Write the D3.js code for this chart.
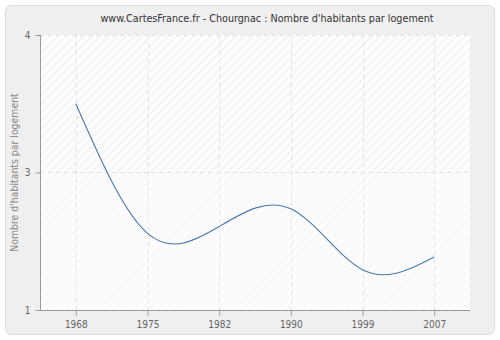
<!DOCTYPE html>
<html><head><meta charset="utf-8">
<script src="https://cdn.jsdelivr.net/npm/d3@7"></script>
<style>body{margin:0;background:#fff;}svg{display:block;font-family:"DejaVu Sans Condensed","DejaVu Sans",sans-serif;font-stretch:condensed;}</style>
</head><body><svg id="c" width="500" height="340"></svg>
<script>
const title = "www.CartesFrance.fr - Chourgnac : Nombre d'habitants par logement";
const yLabel = "Nombre d'habitants par logement";
const years = ["1968","1975","1982","1990","1999","2007"];
const values = [3.30, 1.98, 2.05, 2.23, 1.61, 1.74];
const yTicks = [1.2, 2.6, 4.0];
const yDomain = [1.2, 4.0];

const FONT = '"DejaVu Sans Condensed","DejaVu Sans",sans-serif';
const svg = d3.select("#c");
const L = 40, R = 470, T = 35, B = 310;
const defs = svg.append("defs");
const p1 = defs.append("pattern").attr("id","h1").attr("patternUnits","userSpaceOnUse")
  .attr("width",6).attr("height",6).attr("patternTransform","rotate(45)");
p1.append("rect").attr("width",6).attr("height",6).attr("fill","#fdfdfd");
p1.append("line").attr("x1",0).attr("y1",0).attr("x2",0).attr("y2",6).attr("stroke","#e4e4e4").attr("stroke-width",1.2);
const p2 = defs.append("pattern").attr("id","h2").attr("patternUnits","userSpaceOnUse")
  .attr("width",6).attr("height",6).attr("patternTransform","rotate(45)");
p2.append("rect").attr("width",6).attr("height",6).attr("fill","#fcfcfc");
p2.append("line").attr("x1",0).attr("y1",0).attr("x2",0).attr("y2",6).attr("stroke","#f1f1f1").attr("stroke-width",1.2);

svg.append("rect").attr("x",5.5).attr("y",5.5).attr("width",489).attr("height",329).attr("rx",6)
  .attr("fill","#efefef").attr("stroke","#dcdcdc");

const x = d3.scalePoint().domain(years).range([L,R]).padding(0.5);
const y = d3.scaleLinear().domain(yDomain).range([B,T]);

svg.append("rect").attr("x",L).attr("y",T).attr("width",R-L).attr("height",y(yTicks[1])-T).attr("fill","url(#h1)");
svg.append("rect").attr("x",L).attr("y",y(yTicks[1])).attr("width",R-L).attr("height",B-y(yTicks[1])).attr("fill","url(#h2)");

// grid
svg.append("g").selectAll("line").data(years).join("line")
  .attr("x1",d=>Math.round(x(d))+0.5).attr("x2",d=>Math.round(x(d))+0.5).attr("y1",T).attr("y2",B)
  .attr("stroke","#e2e2e2").attr("stroke-dasharray","4,4");
svg.append("g").selectAll("line").data(yTicks.slice(1)).join("line")
  .attr("x1",L).attr("x2",R).attr("y1",d=>Math.round(y(d))+0.5).attr("y2",d=>Math.round(y(d))+0.5)
  .attr("stroke","#e2e2e2").attr("stroke-dasharray","4,4");

// axes
const fmt = d3.format(".0f");
const ya = svg.append("g").attr("transform",`translate(${L+0.5},0)`)
  .call(d3.axisLeft(y).tickValues(yTicks).tickFormat(fmt).tickSize(5).tickSizeOuter(0));
const xa = svg.append("g").attr("transform",`translate(0,${B+0.5})`)
  .call(d3.axisBottom(x).tickSize(5).tickSizeOuter(0));
[ya,xa].forEach(g=>{
  g.attr("font-family",null);
  g.select(".domain").attr("stroke","#999");
  g.selectAll(".tick line").attr("stroke","#999");
  g.selectAll("text").attr("fill","#666").style("font-size","10px").style("font-family",FONT);
});
xa.select(".domain").attr("d",`M${L},0H${R}`);
ya.select(".domain").attr("d",`M0,${T}V${B}`);
xa.selectAll("text").attr("dy","0.95em");
ya.selectAll("text").attr("x",-10);

// line
const line = d3.line().x((d,i)=>x(years[i])).y(d=>y(d)).curve(d3.curveNatural);
svg.append("path").datum(values).attr("d",line).attr("fill","none").attr("stroke","#4a77ad").attr("stroke-width",1.1);

svg.append("text").attr("x",267).attr("y",22).attr("text-anchor","middle")
  .attr("fill","#333").style("font-size","10.7px").style("font-family",FONT).text(title);
svg.append("text").attr("transform",`translate(18,${(T+B)/2}) rotate(-90)`).attr("text-anchor","middle")
  .attr("fill","#888").style("font-size","10.4px").style("font-family",FONT).text(yLabel);
</script></body></html>
